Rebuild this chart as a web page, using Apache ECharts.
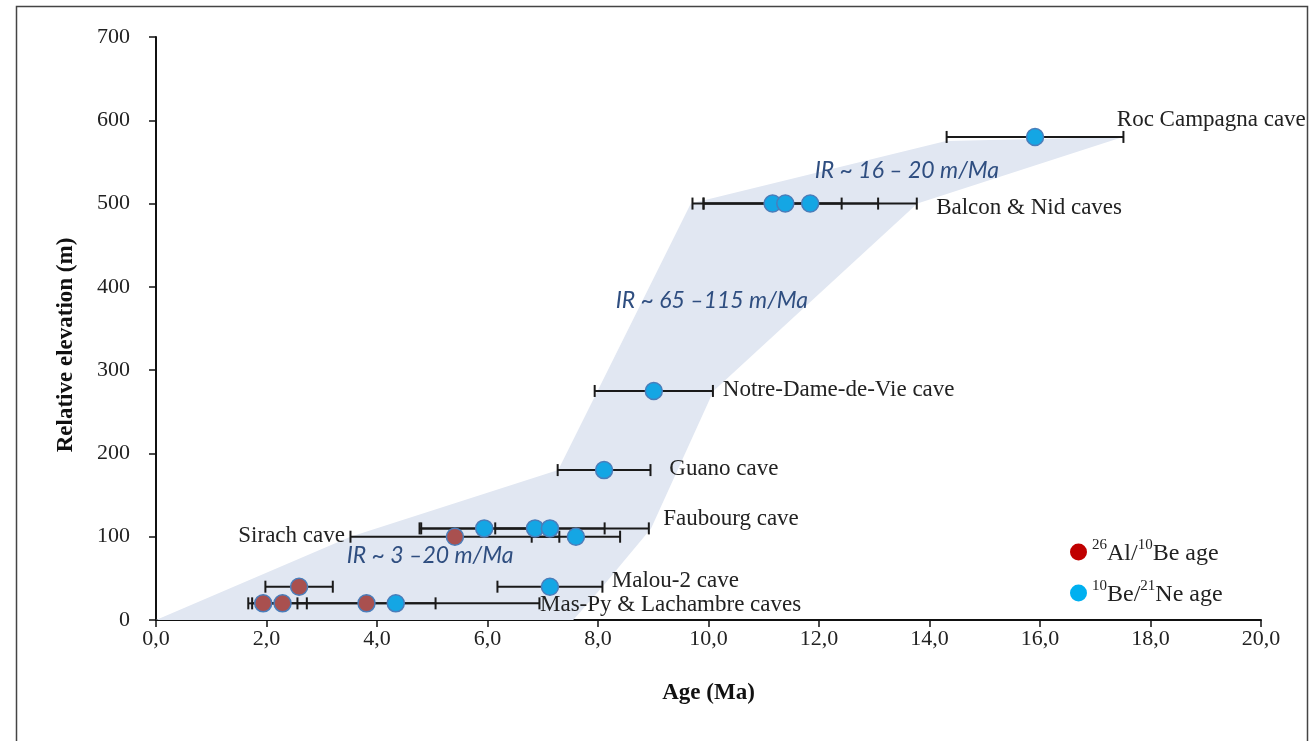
<!DOCTYPE html>
<html>
<head>
<meta charset="utf-8">
<script src="https://cdn.jsdelivr.net/npm/echarts@6/dist/echarts.min.js"></script>
<style>
  html, body { margin: 0; padding: 0; background: #fff; }
  #chart { width: 1309px; height: 741px; }
</style>
</head>
<body>
<div id="chart"></div>
<script>
// ---- data ----
const redAge  = [1.94, 2.29, 3.81, 2.59, 5.41];
const redElev = [20, 20, 20, 40, 100];
const redErr  = [0.27, 0.44, 1.25, 0.61, 1.89];

const blueAge  = [4.34, 7.13, 7.60, 5.94, 6.86, 7.13, 8.11, 9.01, 11.16, 11.39, 11.84, 15.91];
const blueElev = [20, 40, 100, 110, 110, 110, 180, 275, 500, 500, 500, 580];
const blueErr  = [2.60, 0.95, 0.80, 1.17, 2.06, 0.99, 0.84, 1.07, 1.25, 1.68, 1.93, 1.60];

const bandAge  = [0, 3.52, 7.28, 9.68, 14.30, 17.50, 13.78, 10.09, 8.96, 8.08, 7.55];
const bandElev = [0, 100, 180, 500, 575, 580, 500, 275, 110, 40, 0];

const caveNames = ['Roc Campagna cave', 'Balcon & Nid caves', 'Notre-Dame-de-Vie cave', 'Guano cave',
                   'Faubourg cave', 'Sirach cave', 'Malou-2 cave', 'Mas-Py & Lachambre caves'];
const caveLabelAge  = [17.39, 14.12, 10.26, 9.29, 9.18, 3.42, 8.25, 6.95];
const caveLabelElev = [600, 495, 276, 181, 121, 101, 47, 18];
const caveLabelAlign = ['left', 'left', 'left', 'left', 'left', 'right', 'left', 'left'];

const rateTexts = ['IR ~ 16 – 20 m/Ma', 'IR ~ 65 –115 m/Ma', 'IR ~ 3 –20 m/Ma'];
const rateAge   = [13.59, 10.06, 4.96];
const rateElev  = [540, 383, 77];

const xMin = 0, xMax = 20, xStep = 2;
const yMin = 0, yMax = 700, yStep = 100;

const seriesRed = '26Al/10Be age';
const seriesBlue = '10Be/21Ne age';
const yTitle = 'Relative elevation (m)';
const xTitle = 'Age (Ma)';

// ---- build ----
const serif = '"Liberation Serif", "DejaVu Serif", serif';

function errData(ages, elevs, errs) {
  return ages.map((a, i) => [a, elevs[i], a - errs[i], a + errs[i]]);
}
const allErr = errData(redAge, redElev, redErr).concat(errData(blueAge, blueElev, blueErr));

const chart = echarts.init(document.getElementById('chart'), null, { renderer: 'canvas' });

const option = {
  animation: false,
  backgroundColor: '#ffffff',
  grid: { left: 156, right: 48, top: 37, bottom: 121 },
  graphic: [
    {
      type: 'rect', left: 14, top: 4, z: -10,
      shape: { width: 1291, height: 760 },
      style: { fill: 'none', stroke: '#444', lineWidth: 1.5 }
    },
    {
      type: 'text', x: 66, y: 345, rotation: Math.PI / 2,
      style: { text: yTitle, font: 'bold 23px ' + serif, fill: '#111', align: 'center', verticalAlign: 'middle' }
    }
  ],
  xAxis: {
    type: 'value', min: xMin, max: xMax, interval: xStep,
    name: xTitle, nameLocation: 'middle', nameGap: 62,
    nameTextStyle: { fontFamily: serif, fontWeight: 'bold', fontSize: 23, color: '#111' },
    axisLine: { show: true, lineStyle: { color: '#111', width: 2 } },
    axisTick: { show: true, length: 7, lineStyle: { color: '#111', width: 1.5 } },
    axisLabel: { fontFamily: serif, fontSize: 22, color: '#222', margin: 8,
      formatter: v => v.toFixed(1).replace('.', ',') },
    splitLine: { show: false }
  },
  yAxis: {
    type: 'value', min: yMin, max: yMax, interval: yStep,
    axisLine: { show: true, lineStyle: { color: '#111', width: 2 } },
    axisTick: { show: true, length: 7, lineStyle: { color: '#111', width: 1.5 } },
    axisLabel: { fontFamily: serif, fontSize: 22, color: '#222', margin: 26 },
    splitLine: { show: false }
  },
  legend: {
    orient: 'vertical', left: 1065, top: 533, itemGap: 13,
    icon: 'circle', itemWidth: 17, itemHeight: 17,
    data: [
      { name: seriesRed, itemStyle: { color: '#C00000', borderWidth: 0 } },
      { name: seriesBlue, itemStyle: { color: '#00B0F0', borderWidth: 0 } }
    ],
    formatter: function (name) {
      if (name === seriesRed) return '{sup|26}{n|Al/}{sup|10}{n|Be age}';
      return '{sup|10}{n|Be/}{sup|21}{n|Ne age}';
    },
    textStyle: {
      rich: {
        n: { fontFamily: serif, fontSize: 24, color: '#222', lineHeight: 28, verticalAlign: 'bottom' },
        sup: { fontFamily: serif, fontSize: 15, color: '#222', lineHeight: 28, verticalAlign: 'top' }
      }
    }
  },
  series: [
    {
      type: 'custom', name: 'band', silent: true, z: 1,
      data: [0],
      renderItem: function (params, api) {
        const pts = bandAge.map((a, i) => api.coord([a, bandElev[i]]));
        return { type: 'polygon', shape: { points: pts }, style: { fill: '#E1E7F2', stroke: 'none' } };
      }
    },
    {
      type: 'custom', name: 'errors', silent: true, z: 3,
      data: allErr,
      renderItem: function (params, api) {
        const y = api.value(1);
        const p0 = api.coord([api.value(2), y]);
        const p1 = api.coord([api.value(3), y]);
        const h = 6;
        const st = { stroke: '#1a1a1a', lineWidth: 2 };
        return {
          type: 'group',
          children: [
            { type: 'line', shape: { x1: p0[0], y1: p0[1], x2: p1[0], y2: p1[1] }, style: st },
            { type: 'line', shape: { x1: p0[0], y1: p0[1] - h, x2: p0[0], y2: p0[1] + h }, style: st },
            { type: 'line', shape: { x1: p1[0], y1: p1[1] - h, x2: p1[0], y2: p1[1] + h }, style: st }
          ]
        };
      }
    },
    {
      type: 'scatter', name: seriesRed, z: 5, symbolSize: 17,
      data: redAge.map((a, i) => [a, redElev[i]]),
      itemStyle: { color: '#A9504F', borderColor: '#4A7DBA', borderWidth: 1.5, opacity: 1 }
    },
    {
      type: 'scatter', name: seriesBlue, z: 5, symbolSize: 17,
      data: blueAge.map((a, i) => [a, blueElev[i]]),
      itemStyle: { color: '#14A6E4', borderColor: '#4A7DBA', borderWidth: 1.5, opacity: 1 }
    },
    {
      type: 'custom', name: 'caveLabels', silent: true, z: 6,
      data: caveNames.map((n, i) => [caveLabelAge[i], caveLabelElev[i], i]),
      renderItem: function (params, api) {
        const i = api.value(2);
        const p = api.coord([api.value(0), api.value(1)]);
        return {
          type: 'text', x: p[0], y: p[1],
          style: { text: caveNames[i], font: '23px ' + serif, fill: '#222',
                   align: caveLabelAlign[i], verticalAlign: 'middle' }
        };
      }
    },
    {
      type: 'custom', name: 'rateLabels', silent: true, z: 6,
      data: rateTexts.map((t, i) => [rateAge[i], rateElev[i], i]),
      renderItem: function (params, api) {
        const i = api.value(2);
        const p = api.coord([api.value(0), api.value(1)]);
        return {
          type: 'text', x: p[0], y: p[1],
          style: { text: rateTexts[i], font: 'italic 23px Lato, "Noto Sans", sans-serif', fill: '#2F4E80',
                   align: 'center', verticalAlign: 'middle' }
        };
      }
    }
  ]
};
chart.setOption(option);
</script>
</body>
</html>
